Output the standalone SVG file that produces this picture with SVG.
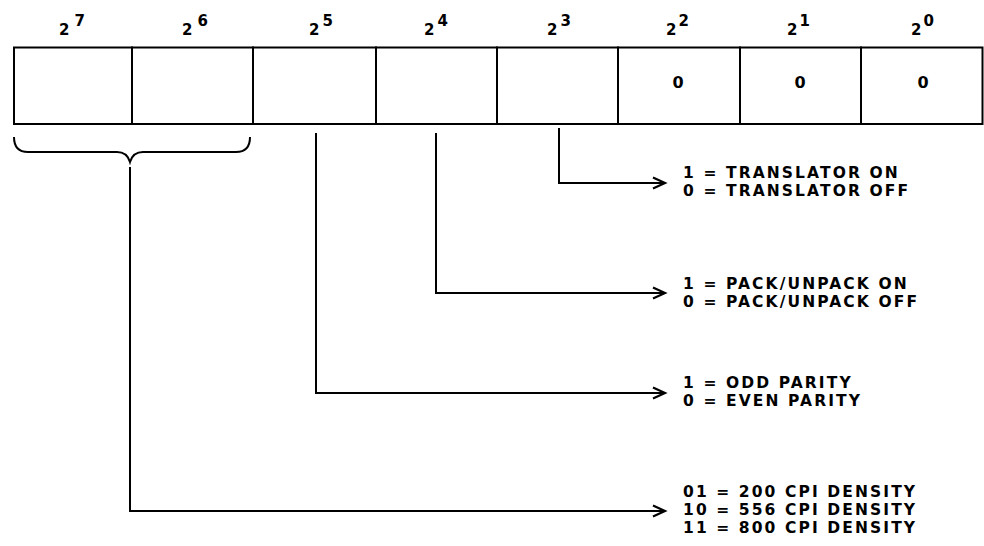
<svg xmlns="http://www.w3.org/2000/svg" width="984" height="546" viewBox="0 0 984 546">
  <style>
    .box { fill: #fff; stroke: #000; stroke-width: 2; }
    .ln { fill: none; stroke: #000; stroke-width: 2; }
    .hdr { font-family: "DejaVu Sans", "Liberation Sans", sans-serif; font-weight: bold; font-size: 15px; fill: #000; }
    .val { font-family: "DejaVu Sans", "Liberation Sans", sans-serif; font-weight: bold; font-size: 16px; fill: #000; text-anchor: middle; }
    .lbl { font-family: "DejaVu Sans", "Liberation Sans", sans-serif; font-weight: bold; font-size: 15.5px; letter-spacing: 2.1px; fill: #000; }
  </style>
  <defs>
    <marker id="arr" markerUnits="userSpaceOnUse" markerWidth="16" markerHeight="14" refX="13" refY="7" orient="auto">
      <path d="M1,1.5 L13,7 L1,12.5" fill="none" stroke="#000" stroke-width="2.2"/>
    </marker>
  </defs>
  <rect width="984" height="546" fill="#fff"/>

  <g id="headers">
    <text class="hdr" x="59" y="35">2<tspan dx="5" dy="-9">7</tspan></text>
    <text class="hdr" x="182" y="35">2<tspan dx="5" dy="-9">6</tspan></text>
    <text class="hdr" x="309" y="35">2<tspan dx="3" dy="-9">5</tspan></text>
    <text class="hdr" x="424" y="35">2<tspan dx="3" dy="-9">4</tspan></text>
    <text class="hdr" x="547" y="35">2<tspan dx="3" dy="-9">3</tspan></text>
    <text class="hdr" x="666" y="35">2<tspan dx="2" dy="-9">2</tspan></text>
    <text class="hdr" x="787" y="35">2<tspan dx="2" dy="-9">1</tspan></text>
    <text class="hdr" x="911" y="35">2<tspan dx="2" dy="-9">0</tspan></text>
  </g>

  <g id="register">
    <rect id="bit7" class="box" x="14" y="47.5" width="118" height="76.5"/>
    <rect id="bit6" class="box" x="132" y="47.5" width="121" height="76.5"/>
    <rect id="bit5" class="box" x="253" y="47.5" width="123" height="76.5"/>
    <rect id="bit4" class="box" x="376" y="47.5" width="121" height="76.5"/>
    <rect id="bit3" class="box" x="497" y="47.5" width="121" height="76.5"/>
    <g id="bit2"><rect class="box" x="618" y="47.5" width="122" height="76.5"/><text class="val" x="678" y="88">0</text></g>
    <g id="bit1"><rect class="box" x="740" y="47.5" width="121" height="76.5"/><text class="val" x="800" y="88">0</text></g>
    <g id="bit0"><rect class="box" x="861" y="47.5" width="121.5" height="76.5"/><text class="val" x="923" y="88">0</text></g>
  </g>

  <g id="connectors">
    <path id="brace" class="ln" d="M14,137 Q14,152 28,152 L117,152 Q127,152 130,162 Q133,152 143,152 L236,152 Q250,152 250,137"/>
    <path class="ln" d="M559,128 L559,183 L665,183" marker-end="url(#arr)"/>
    <path class="ln" d="M436,133 L436,293 L665,293" marker-end="url(#arr)"/>
    <path class="ln" d="M316,133 L316,393 L665,393" marker-end="url(#arr)"/>
    <path class="ln" d="M130,167 L130,511 L665,511" marker-end="url(#arr)"/>
  </g>

  <g id="translator">
    <text class="lbl" x="683" y="178">1 = TRANSLATOR ON</text>
    <text class="lbl" x="683" y="196">0 = TRANSLATOR OFF</text>
  </g>
  <g id="pack">
    <text class="lbl" x="683" y="289">1 = PACK/UNPACK ON</text>
    <text class="lbl" x="683" y="307">0 = PACK/UNPACK OFF</text>
  </g>
  <g id="parity">
    <text class="lbl" x="683" y="388">1 = ODD PARITY</text>
    <text class="lbl" x="683" y="406">0 = EVEN PARITY</text>
  </g>
  <g id="density">
    <text class="lbl" x="683" y="497">01 = 200 CPI DENSITY</text>
    <text class="lbl" x="683" y="515">10 = 556 CPI DENSITY</text>
    <text class="lbl" x="683" y="533">11 = 800 CPI DENSITY</text>
  </g>
</svg>
